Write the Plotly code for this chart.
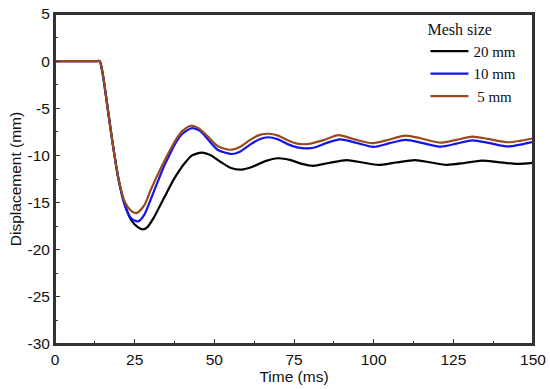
import plotly.graph_objects as go

# 20 mm mesh
t20 = [0, 5, 10, 13, 14, 15, 16, 18, 20, 22, 24, 26, 27.6, 29, 31, 33, 35, 37, 39, 41, 43, 46, 49, 52, 55, 58.5,
       62, 66, 70, 74, 77.5, 81, 86, 91.5, 96.5, 101.5, 107, 113, 118, 123, 128.5, 134, 139, 145, 150]
d20 = [0, 0, 0, 0, 0, -1.4, -3.7, -8.5, -12.6, -15.3, -16.9, -17.6, -17.85, -17.6, -16.6, -15.3, -14.0, -12.7, -11.6,
       -10.7, -10.0, -9.7, -10.0, -10.7, -11.3, -11.5, -11.2, -10.6, -10.3, -10.5, -10.9, -11.1, -10.8, -10.5,
       -10.75, -11.0, -10.75, -10.5, -10.75, -11.0, -10.8, -10.55, -10.7, -10.9, -10.8]

# 10 mm mesh
t10 = [0, 5, 10, 13, 14, 15, 16, 18, 20, 22, 24, 26, 28, 30, 32, 34, 36, 38, 40, 43, 45.5, 48, 51, 55.5, 58, 61, 64,
       67, 70, 73, 76, 79.5, 82, 85, 89.5, 95, 100, 105, 110, 115.5, 121, 126, 131, 136.5, 142, 146, 150]
d10 = [0, 0, 0, 0, 0, -1.4, -3.7, -8.5, -12.7, -15.4, -16.7, -17.0, -16.3, -14.7, -13.0, -11.3, -9.9, -8.6, -7.7,
       -7.1, -7.4, -8.3, -9.4, -9.85, -9.6, -8.9, -8.3, -8.07, -8.3, -8.8, -9.15, -9.25, -9.1, -8.7, -8.3,
       -8.7, -9.1, -8.7, -8.35, -8.7, -9.07, -8.75, -8.4, -8.7, -9.05, -8.85, -8.55]

# 5 mm mesh
t5 = [0, 5, 10, 13, 14, 15, 16, 18, 20, 22, 24, 25.7, 28, 30, 32, 34, 36, 38, 40, 42.7, 45, 48, 51, 55, 58, 61, 64,
      67, 70, 73, 76, 79, 84, 89, 94, 99.5, 104, 110, 115, 121, 126, 131, 136, 142, 146, 150]
d5 = [0, 0, 0, 0, 0, -1.4, -3.7, -8.5, -12.6, -15.0, -15.9, -16.1, -15.3, -13.7, -12.2, -10.8, -9.5, -8.3, -7.4,
      -6.85, -7.1, -8.0, -9.0, -9.4, -9.1, -8.4, -7.85, -7.7, -7.9, -8.4, -8.75, -8.8, -8.4, -7.85, -8.3,
      -8.7, -8.4, -7.9, -8.2, -8.65, -8.35, -8.0, -8.25, -8.6, -8.45, -8.2]

series = [("20 mm", t20, d20, "#000000"),
          ("10 mm", t10, d10, "#1414f0"),
          (" 5 mm", t5, d5, "#9a4a1c")]

xticks = [0, 25, 50, 75, 100, 125, 150]
yticks = [5, 0, -5, -10, -15, -20, -25, -30]
ytick_text = ["5", "0", "-5", "-10", "-15", "-20", "-25", "-30"]

fig = go.Figure()
for name, t, d, c in series:
    fig.add_trace(go.Scatter(x=t, y=d, mode="lines", name=name,
                             line=dict(color=c, width=2.2, shape="spline", smoothing=0.7)))

sans = "Liberation Sans, Arial"
serif = "Liberation Serif, Times New Roman"
axis_common = dict(showline=True, mirror=True, linecolor="#333333", linewidth=2,
                   ticks="inside", ticklen=5, tickwidth=1.2, tickcolor="#333333",
                   showgrid=False, zeroline=False,
                   tickfont=dict(family=sans, size=15.5, color="#111"),
                   minor=dict(ticks="inside", ticklen=3, tickwidth=1, tickcolor="#333333", showgrid=False))

fig.update_xaxes(range=[0, 150], tickvals=xticks, ticktext=[str(v) for v in xticks],
                 title=dict(text="Time (ms)", font=dict(family=sans, size=15.5, color="#111"), standoff=0),
                 minor_dtick=12.5, **axis_common)
fig.update_yaxes(range=[-30, 5], tickvals=yticks, ticktext=ytick_text,
                 title=dict(text="Displacement (mm)", font=dict(family=sans, size=15.5, color="#111"), standoff=2),
                 minor_dtick=2.5, **axis_common)

# frame around the plot area
fig.add_shape(type="rect", xref="paper", yref="paper", x0=0, y0=0, x1=1, y1=1,
              line=dict(color="#333333", width=2), fillcolor="rgba(0,0,0,0)", layer="above")

fig.update_layout(
    width=550, height=389,
    margin=dict(l=55, r=17, t=14, b=45, autoexpand=False),
    plot_bgcolor="white", paper_bgcolor="white",
    legend=dict(x=0.775, y=1.0, xanchor="left", yanchor="top",
                bgcolor="rgba(0,0,0,0)", itemwidth=38,
                title=dict(text="Mesh size", font=dict(family=serif, size=16, color="#111")),
                font=dict(family=serif, size=15, color="#111"),
                tracegroupgap=0),
)

fig.write_html("out.html", config={"responsive": False, "displayModeBar": False},
               post_script="document.body.style.margin='0';")
